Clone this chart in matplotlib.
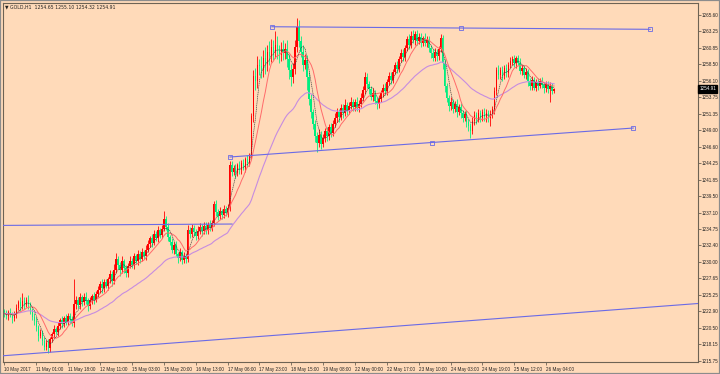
import matplotlib
matplotlib.use("Agg")
import matplotlib.pyplot as plt
import matplotlib.transforms as mtransforms
from matplotlib.patches import Rectangle
import numpy as np
import pandas as pd

plt.rcParams['font.family'] = ['Liberation Sans', 'DejaVu Sans']

# hourly closes, GOLD H1, 10 May 00:00 .. 26 May 08:00 (16 bars per row)
closes = [
    1222.6, 1222.2, 1222.8, 1222.4, 1221.9, 1222.5, 1223.4, 1224.2, 1223.6, 1224.4, 1223.8, 1224.6, 1223.9, 1223.0, 1222.1, 1221.5,
    1220.6, 1219.4, 1219.9, 1218.6, 1217.8, 1218.4, 1217.6, 1218.9, 1219.6, 1220.3, 1219.9, 1220.8, 1221.6, 1221.1, 1222.0, 1221.4,
    1222.3, 1221.8, 1221.2, 1223.9, 1224.6, 1223.8, 1224.9, 1224.2, 1225.0, 1224.4, 1223.7, 1224.5, 1225.1, 1224.6, 1225.4, 1226.0,
    1226.8, 1226.2, 1227.1, 1226.6, 1227.5, 1228.3, 1227.2, 1228.9, 1230.4, 1229.6, 1228.8, 1230.2, 1229.1, 1228.4, 1229.5, 1230.2,
    1229.6, 1230.8, 1230.1, 1231.2, 1230.5, 1231.5, 1230.9, 1231.8, 1232.6, 1233.4, 1232.8, 1234.1, 1233.5, 1234.6, 1233.9, 1234.8,
    1236.2, 1235.1, 1233.6, 1232.9, 1231.8, 1232.5, 1231.2, 1230.6, 1231.4, 1230.3, 1230.9, 1230.5, 1234.6, 1234.0, 1234.9, 1234.3,
    1233.7, 1234.5, 1235.1, 1234.4, 1235.2, 1234.6, 1235.4, 1234.9, 1235.6, 1238.3, 1237.2, 1236.6, 1237.4, 1236.8, 1237.6, 1237.0,
    1237.8, 1243.9, 1243.0, 1243.6, 1242.8, 1243.9, 1243.2, 1244.3, 1243.6, 1244.8, 1244.2, 1245.3, 1251.0, 1256.8, 1256.0, 1258.3,
    1258.2, 1257.6, 1259.4, 1258.5, 1260.3, 1259.6, 1260.9, 1260.2, 1261.3, 1260.5, 1259.8, 1260.6, 1260.1, 1260.7, 1259.2, 1257.6,
    1256.6, 1257.8, 1260.9, 1263.8, 1261.8, 1260.2, 1258.4, 1259.1, 1256.7, 1253.4, 1251.6, 1249.8, 1248.1, 1247.2, 1248.3, 1247.0,
    1247.9, 1248.8, 1248.1, 1249.4, 1248.6, 1249.9, 1250.8, 1251.6, 1250.9, 1252.2, 1251.4, 1252.6, 1251.8, 1252.4, 1253.0, 1252.3,
    1253.1, 1252.2, 1252.8, 1253.6, 1254.8, 1256.6, 1255.6, 1254.9, 1253.8, 1254.4, 1253.2, 1252.7, 1253.4, 1254.3, 1255.1, 1254.6,
    1255.9, 1256.8, 1256.2, 1257.4, 1258.3, 1257.8, 1259.2, 1260.1, 1259.5, 1260.8, 1262.1, 1261.3, 1262.6, 1261.9, 1262.8, 1261.8,
    1262.4, 1261.6, 1262.2, 1261.5, 1262.0, 1260.8, 1260.1, 1259.4, 1260.2, 1259.6, 1260.6, 1262.2, 1258.6, 1255.4, 1253.6, 1252.4,
    1253.1, 1252.0, 1252.7, 1251.6, 1252.3, 1251.4, 1250.8, 1251.3, 1250.1, 1249.6, 1248.9, 1250.3, 1251.2, 1250.6, 1251.4, 1250.8,
    1251.6, 1250.9, 1251.5, 1250.7, 1251.3, 1252.0, 1254.6, 1257.6, 1256.9, 1257.6, 1256.8, 1257.9, 1257.2, 1258.3, 1258.9, 1259.2,
    1258.6, 1259.3, 1258.7, 1257.5, 1257.9, 1256.9, 1257.4, 1256.0, 1255.3, 1256.2, 1255.1, 1255.9, 1255.4, 1256.1, 1255.5, 1255.0,
    1255.6, 1254.9, 1255.4, 1254.65, 1254.91,
]
first_open = 1222.9

# wick length above / below the body of each bar
wick_hi = [
    0.4, 0.5, 0.3, 0.6, 0.4, 0.5, 0.6, 0.4, 0.7, 1.1, 0.5, 0.4, 0.6, 0.3, 0.4, 0.5,
    0.6, 0.4, 0.5, 0.3, 0.6, 0.4, 0.5, 0.3, 0.4, 0.6, 0.3, 0.5, 0.4, 0.6, 0.3, 0.5,
    0.4, 0.3, 0.5, 3.6, 0.5, 0.4, 0.6, 0.3, 0.5, 0.7, 0.4, 0.5, 0.3, 0.6, 0.4, 0.5,
    0.5, 0.7, 0.4, 0.5, 0.3, 0.6, 0.4, 0.8, 0.9, 0.5, 0.4, 0.6, 0.3, 0.5, 0.4, 0.6,
    0.4, 0.5, 0.3, 0.6, 0.4, 0.5, 0.3, 0.6, 0.5, 0.4, 0.6, 0.5, 0.4, 0.6, 0.3, 0.5,
    1.1, 0.4, 0.5, 0.3, 0.6, 0.4, 0.5, 0.3, 0.6, 0.4, 0.5, 0.3, 0.8, 0.4, 0.6, 0.5,
    0.4, 0.7, 0.5, 0.4, 0.6, 0.5, 0.3, 0.6, 0.4, 0.5, 0.7, 0.4, 0.5, 0.3, 0.6, 0.4,
    0.5, 0.7, 0.6, 0.4, 0.5, 0.3, 0.6, 0.4, 0.5, 0.3, 0.6, 0.4, 0.5, 0.9, 1.1, 1.3,
    0.9, 1.4, 1.1, 1.6, 0.9, 1.5, 1.2, 1.0, 2.0, 1.2, 0.8, 1.1, 1.4, 0.9, 1.2, 0.8,
    0.9, 0.8, 1.1, 1.3, 1.0, 0.8, 1.1, 0.9, 0.7, 0.6, 0.8, 0.5, 0.7, 0.6, 0.8, 0.5,
    0.6, 0.5, 0.7, 0.4, 0.6, 0.5, 0.7, 0.6, 0.4, 0.6, 0.5, 0.9, 0.4, 0.6, 0.8, 0.5,
    0.4, 0.6, 0.5, 0.7, 0.5, 0.7, 0.6, 0.4, 0.5, 0.6, 0.4, 0.5, 0.6, 0.4, 0.5, 0.6,
    0.4, 0.5, 0.6, 0.4, 0.5, 0.6, 0.4, 0.5, 0.6, 0.4, 0.5, 0.7, 0.6, 0.8, 0.5, 0.6,
    0.5, 0.6, 0.4, 0.7, 0.5, 0.6, 0.4, 0.5, 0.6, 0.4, 0.5, 0.6, 0.5, 0.6, 0.4, 0.5,
    0.6, 0.4, 0.5, 0.7, 0.4, 0.6, 0.5, 0.4, 0.6, 0.5, 0.4, 0.6, 0.5, 0.4, 0.6, 0.5,
    0.4, 0.6, 0.5, 0.4, 0.6, 0.5, 0.6, 0.5, 0.7, 0.5, 0.6, 0.4, 0.6, 0.5, 0.6, 0.5,
    0.6, 0.4, 0.5, 0.6, 0.4, 0.5, 0.6, 0.4, 0.5, 0.6, 0.4, 0.5, 0.6, 0.4, 0.5, 0.4,
    0.5, 0.4, 0.5, 0.3, 0.19,
]
wick_lo = [
    0.5, 0.4, 0.6, 0.3, 0.7, 0.4, 0.5, 0.3, 0.6, 0.4, 0.5, 0.3, 0.6, 0.5, 0.4, 0.6,
    0.5, 0.7, 0.4, 0.6, 0.5, 0.4, 0.7, 0.5, 0.4, 0.6, 0.3, 0.5, 0.4, 0.6, 0.5, 0.4,
    0.5, 0.6, 0.4, 0.5, 0.6, 0.4, 0.5, 0.6, 0.4, 0.5, 0.7, 0.4, 0.5, 0.6, 0.4, 0.5,
    0.4, 0.6, 0.5, 0.4, 0.6, 0.5, 0.7, 0.4, 0.5, 0.6, 0.8, 0.4, 0.7, 0.5, 0.6, 0.4,
    0.5, 0.6, 0.4, 0.5, 0.6, 0.4, 0.5, 0.6, 0.4, 0.5, 0.6, 0.4, 0.5, 0.6, 0.4, 0.5,
    0.4, 0.5, 0.6, 0.4, 0.5, 0.6, 0.4, 0.7, 0.5, 0.6, 0.4, 0.7, 0.5, 0.6, 0.4, 0.5,
    0.6, 0.4, 0.5, 0.6, 0.4, 0.5, 0.6, 0.4, 0.5, 0.4, 0.6, 0.5, 0.4, 0.6, 0.5, 0.4,
    0.5, 0.4, 0.6, 0.5, 0.7, 0.4, 0.6, 0.5, 0.4, 0.6, 0.5, 0.4, 0.5, 0.9, 1.2, 1.0,
    1.3, 1.1, 0.9, 1.4, 1.0, 1.2, 0.8, 1.1, 0.9, 1.3, 1.2, 0.8, 1.0, 0.9, 1.1, 1.3,
    1.2, 0.9, 0.8, 0.7, 0.8, 0.7, 0.9, 0.6, 2.0, 0.8, 0.9, 0.7, 0.8, 1.4, 0.6, 0.7,
    0.5, 0.6, 0.7, 0.5, 0.6, 0.4, 0.5, 0.6, 0.7, 0.5, 0.6, 0.4, 0.6, 0.5, 0.4, 0.6,
    0.5, 0.4, 0.6, 0.5, 0.4, 0.6, 0.5, 0.7, 0.5, 0.6, 0.4, 0.6, 0.5, 0.4, 0.6, 0.5,
    0.5, 0.4, 0.6, 0.5, 0.4, 0.6, 0.5, 0.4, 0.6, 0.5, 0.4, 0.6, 0.5, 0.4, 0.6, 0.5,
    0.4, 0.6, 0.5, 0.4, 0.6, 0.5, 0.7, 0.5, 0.4, 0.6, 0.5, 0.4, 0.8, 0.9, 0.6, 0.7,
    0.5, 0.6, 0.4, 0.7, 0.5, 0.6, 0.7, 0.5, 0.6, 0.8, 1.1, 0.5, 0.6, 0.7, 0.5, 0.6,
    0.5, 0.6, 0.7, 0.5, 1.1, 0.6, 0.7, 0.5, 0.6, 0.5, 0.7, 0.4, 0.6, 0.5, 0.4, 0.5,
    0.5, 0.6, 0.4, 0.5, 0.6, 0.4, 0.5, 0.7, 0.5, 0.6, 0.4, 0.5, 0.6, 0.4, 0.5, 0.6,
    0.5, 0.6, 1.9, 0.4, 0.33,
]

time_labels = [
    "10 May 2017", "11 May 01:00", "11 May 18:00", "12 May 11:00", "15 May 03:00",
    "15 May 20:00", "16 May 13:00", "17 May 06:00", "17 May 23:00", "18 May 15:00",
    "19 May 08:00", "22 May 00:00", "22 May 17:00", "23 May 10:00", "24 May 03:00",
    "24 May 19:00", "25 May 12:00", "26 May 04:00",
]
label_step = 16

price_ticks = [1265.60, 1263.25, 1260.85, 1258.50, 1256.10, 1253.75, 1251.35, 1249.00,
               1246.60, 1244.25, 1241.85, 1239.50, 1237.10, 1234.75, 1232.40, 1230.00,
               1227.65, 1225.25, 1222.90, 1220.50, 1218.15, 1215.75]

# trend lines: (bar, price) end points
top_line = [(134.25, 1263.87), (324.25, 1263.50)]
mid_line = [(113.25, 1245.12), (315.75, 1249.29)]
old_level = [(-2.0, 1235.27), (114.25, 1235.47)]
low_line = [(0.75, 1216.54), (348.25, 1224.03)]

symbol = "GOLD,H1"
last_ohlc = ["1254.65", "1255.10", "1254.32", "1254.91"]

BG = '#FFDAB9'
AXIS = '#6e6354'
UP = '#FF0000'
DOWN = '#00EE80'
TL = '#6A6AE6'

closes = np.array(closes)
opens = np.concatenate([[first_open], closes[:-1]])
highs = np.maximum(opens, closes) + np.array(wick_hi)
lows = np.minimum(opens, closes) - np.array(wick_lo)
bars = np.arange(len(closes))

fig = plt.figure(figsize=(7.2, 3.74), dpi=100, facecolor=BG)
ax = fig.add_axes([3 / 720, 12 / 374, 695 / 720, 359.3 / 374])
ax.set_facecolor(BG)

colors = np.where(closes >= opens, UP, DOWN)
ax.vlines(bars, lows, highs, colors=colors, linewidth=0.6, zorder=2)
body = np.maximum(np.abs(closes - opens), 0.08)
ax.bar(bars, body, bottom=np.minimum(opens, closes), width=0.8,
       color=colors, linewidth=0, zorder=2)

s = pd.Series(closes)
ax.plot(bars, s.ewm(span=40, adjust=False).mean(), color='#C68CE0', lw=0.8, zorder=3)
ax.plot(bars, s.rolling(10, min_periods=1).mean(), color='#FF6A6A', lw=0.7, zorder=3)
ax.plot(bars, s.rolling(5, min_periods=1).mean(), color='#3a3a3a', lw=0.45,
        ls=(0, (2, 1)), zorder=3)

for line, handles in [(top_line, True), (mid_line, True), (old_level, False)]:
    (x0, y0), (x1, y1) = line
    ax.plot([x0, x1], [y0, y1], color=TL, lw=0.8, zorder=4)
    if handles:
        ax.plot([x0, (x0 + x1) / 2, x1], [y0, (y0 + y1) / 2, y1], ls='none',
                marker='s', ms=2.2, mfc='none', mec=TL, mew=0.6, zorder=4)

(x0, y0), (x1, y1) = low_line
slope = (y1 - y0) / (x1 - x0)
ax.plot([-5, 360], [y0 + slope * (-5 - x0), y0 + slope * (360 - x0)],
        color=TL, lw=0.8, zorder=4)

ax.set_xlim(-0.75, 348.25)
ax.set_ylim(1215.61, 1267.33)

ax.set_xticks(bars[::label_step][:len(time_labels)])
ax.set_xticklabels(time_labels, fontsize=3.3, ha='left', color='#222222')
ax.yaxis.tick_right()
ax.set_yticks(price_ticks)
ax.set_yticklabels([f"{p:.2f}" for p in price_ticks], fontsize=3.3, color='#222222')
ax.tick_params(axis='x', length=2.5, width=0.6, pad=1, color=AXIS)
ax.tick_params(axis='y', length=2, width=0.6, pad=1, color=AXIS)
for sp in ax.spines.values():
    sp.set_color(AXIS)
    sp.set_linewidth(0.8)

# current price tag
trans = mtransforms.blended_transform_factory(ax.transAxes, ax.transData)
ax.text(1.002, closes[-1], f"{closes[-1]:.2f}", transform=trans, fontsize=3.3,
        color='white', va='center', ha='left', zorder=6,
        bbox=dict(boxstyle='square,pad=0.25', fc='black', ec='black'))

fig.text(5 / 720, 1 - 6.5 / 374, "\u25bc " + symbol + "  " + " ".join(last_ohlc),
         fontsize=3.3, color='#222222', va='center', ha='left',
         family=['DejaVu Sans'])

fig.patches.append(Rectangle((0, 0), 1, 1, transform=fig.transFigure,
                             fill=False, ec='#8c8c8c', lw=1.6))

fig.savefig("out.png", dpi=100, facecolor=BG)
